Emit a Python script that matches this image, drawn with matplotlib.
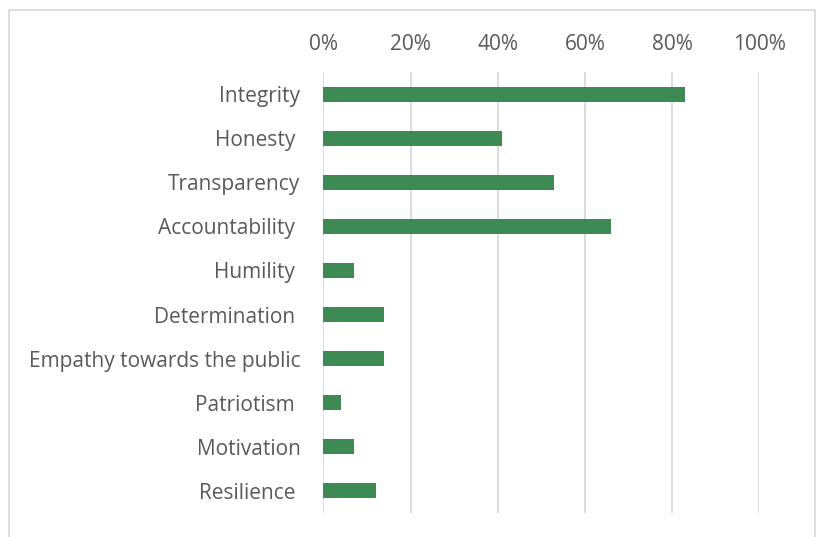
import matplotlib.pyplot as plt
from matplotlib.patches import Rectangle

# qualities, top to bottom, with share of respondents choosing each
qualities = ["Integrity", "Honesty ", "Transparency", "Accountability ",
             "Humility ", "Determination ", "Empathy towards the public",
             "Patriotism ", "Motivation", "Resilience "]
shares = [0.83, 0.41, 0.53, 0.66, 0.07, 0.14, 0.14, 0.04, 0.07, 0.12]
ticks = [0, 0.2, 0.4, 0.6, 0.8, 1.0]
tick_labels = ["0%", "20%", "40%", "60%", "80%", "100%"]

plt.rcParams['font.family'] = ['Open Sans', 'DejaVu Sans']
text_col = "#595959"
grid_col = "#d9d9d9"

fig = plt.figure(figsize=(8.21, 5.37), dpi=100)
ax = fig.add_axes([0.3938, 0.0447, 0.5311, 0.8213])

# chart area frame
fig.patches.append(Rectangle((9 / 821, -0.05), 806 / 821, 1.05 - 9.5 / 537,
                             transform=fig.transFigure, fill=False,
                             edgecolor=grid_col, linewidth=1.2))

y = list(range(len(qualities)))
ax.barh(y, shares, height=0.34, color="#3d8a55", zorder=3)

ax.set_xlim(0, 1.0)
ax.set_ylim(len(qualities) - 0.5, -0.5)
ax.set_xticks(ticks)
ax.set_xticklabels(tick_labels)
ax.set_yticks(y)
ax.set_yticklabels(qualities)

ax.xaxis.tick_top()
ax.tick_params(axis='x', length=0, pad=12, labelsize=15, labelcolor=text_col)
ax.tick_params(axis='y', length=0, pad=16.5, labelsize=15, labelcolor=text_col)
ax.grid(axis='x', color=grid_col, linewidth=1.3, zorder=0)
for side in ax.spines.values():
    side.set_visible(False)

fig.savefig("out.png", dpi=100)
